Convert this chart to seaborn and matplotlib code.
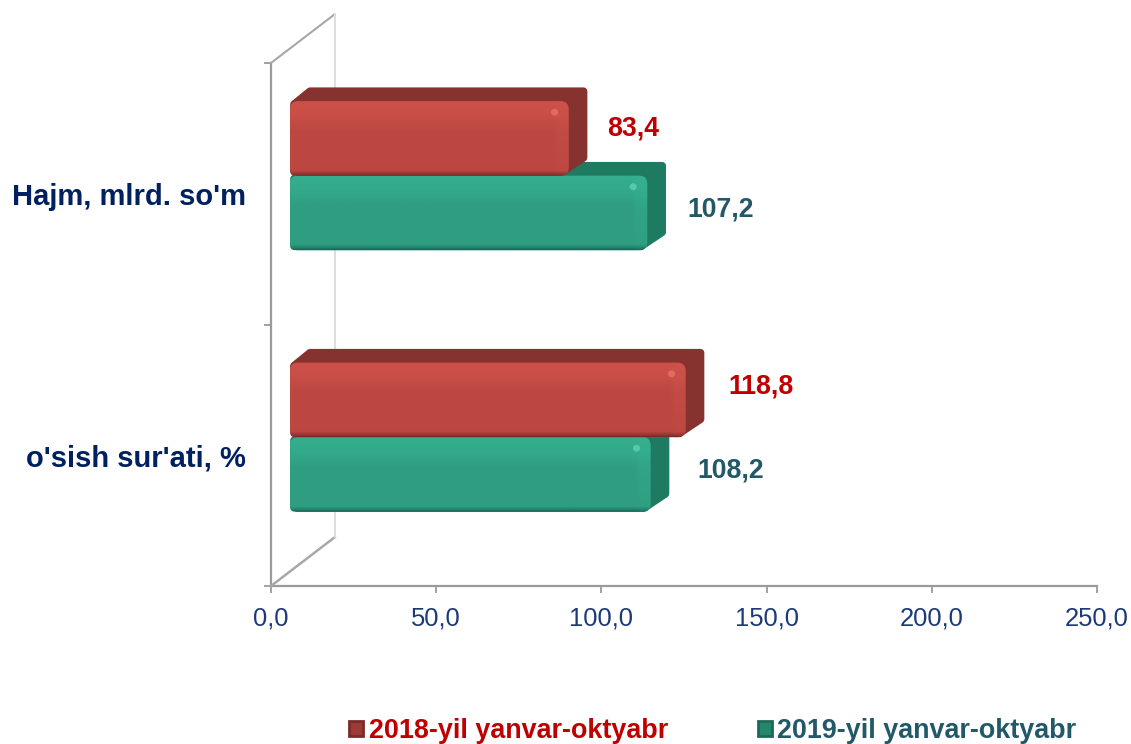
import numpy as np
import pandas as pd
import matplotlib
matplotlib.use('Agg')
import matplotlib.pyplot as plt
from matplotlib.patches import FancyBboxPatch, Polygon, Circle
from matplotlib.colors import to_rgb
import seaborn as sns

# data
categories = ["Hajm, mlrd. so'm", "o'sish sur'ati, %"]
series_names = ['2018-yil yanvar-oktyabr', '2019-yil yanvar-oktyabr']
values_2018 = [83.4, 118.8]
values_2019 = [107.2, 108.2]
x_ticks = [0, 50, 100, 150, 200, 250]

# styles
RED = dict(face='#bc4741', top='#d0534c', low='#7a2b28', dark='#86322e', text='#c00000',
           mark='#9c3a36', glint='#e8706a')
TEAL = dict(face='#2f9e80', top='#36b291', low='#1b6a57', dark='#1f7a62', text='#215968',
            mark='#26866c', glint='#5ccfb0')
styles = {series_names[0]: RED, series_names[1]: TEAL}
NAVY = '#002060'
TICK_BLUE = '#1c3a78'
AXIS_GRAY = '#9a9a9a'
W, H = 1131, 744

sns.set_theme(style='white')
plt.rcParams['font.family'] = ['Liberation Sans', 'DejaVu Sans']

df = pd.DataFrame({
    'cat': categories * 2,
    'series': [series_names[0]] * 2 + [series_names[1]] * 2,
    'val': values_2018 + values_2019,
})

fig = plt.figure(figsize=(W / 100, H / 100), dpi=100, facecolor='white')
ax = fig.add_axes([271 / W, (H - 586) / H, 826 / W, 523 / H])
sns.barplot(data=df, y='cat', x='val', hue='series', order=categories,
            hue_order=series_names, width=0.57, gap=0, dodge=True,
            palette=[RED['face'], TEAL['face']], errorbar=None, ax=ax, legend=True)

ax.set_xlim(0, 250)
ax.set_ylim(1.5, -0.5)
ax.set_xlabel('')
ax.set_ylabel('')
ax.set_xticks(x_ticks)
ax.set_xticklabels([f'{t:.1f}'.replace('.', ',') for t in x_ticks],
                   fontsize=18.4, color=TICK_BLUE)
ax.set_yticks([0, 1])
ax.set_yticklabels(categories, fontsize=21, fontweight='bold', color=NAVY)
ax.set_yticks([-0.5, 0.5, 1.5], minor=True)
ax.tick_params(axis='y', which='major', length=0, pad=18, left=False)
ax.tick_params(axis='y', which='minor', length=5, width=1.3, color=AXIS_GRAY, left=True)
ax.tick_params(axis='x', which='major', length=5, width=1.3, color=AXIS_GRAY,
               pad=10, bottom=True)
sns.despine(ax=ax)
for side in ['left', 'bottom']:
    ax.spines[side].set_color(AXIS_GRAY)
    ax.spines[side].set_linewidth(1.6)

# overlay in pixel coordinates for the fake 3D look
deco = fig.add_axes([0, 0, 1, 1], facecolor='none')
deco.set_xlim(0, W)
deco.set_ylim(H, 0)
deco.axis('off')

# side walls of the 3D box
x0, x1, y0, y1 = 271, 335, 63, 14
deco.plot([x0, x1], [y0, y1], color='#a8a8a8', lw=1.5, zorder=1)
deco.plot([x0, x1], [586, 537], color='#a8a8a8', lw=1.8, zorder=1)
deco.plot([x1, x1], [y1, 537], color='#dedede', lw=1.5, zorder=1)

SHIFT_X, SHIFT_Y = 19, -18
DEPTH_X, DEPTH_Y = 19, 14
EXTRA = 3
BEVEL = 17


def shade(style, w, h):
    base, top, low = [np.array(to_rgb(style[k])) for k in ('face', 'top', 'low')]
    t = np.linspace(0, 1, h)[:, None]
    a = np.interp(t, [0, 0.18, 0.4, 1], [0.8, 0.65, 0, 0])
    b = np.interp(t, [0, 0.93, 0.97, 1], [0, 0, 0.5, 1])
    img = np.ones((h, w, 3)) * base
    img = img * (1 - a[..., None]) + top * a[..., None]
    img = img * (1 - b[..., None]) + low * b[..., None]
    # lighter bevel strip at the right end
    xs = np.arange(w)[None, :]
    c = np.clip((xs - (w - BEVEL)) / 6.0, 0, 1) * 0.45 * np.clip(1.1 - t, 0, 1)
    img = img * (1 - c[..., None]) + top * c[..., None]
    return np.clip(img, 0, 1)


bars = [p for p in ax.patches if p.get_width() > 0]
# each series comes in category order, the 2019 bars sit below the 2018 ones
order = [(s, v, i) for s, vals in zip(series_names, [values_2018, values_2019])
         for i, v in enumerate(vals)]
bar_info = []
for patch, (name, value, cat_i) in zip(bars, order):
    (l, b), (r, t) = ax.transData.transform([
        (patch.get_x(), patch.get_y()),
        (patch.get_x() + patch.get_width(), patch.get_y() + patch.get_height())])
    px_l, px_r = l + SHIFT_X, r + SHIFT_X + EXTRA
    px_t, px_b = sorted([H - t + SHIFT_Y, H - b + SHIFT_Y])
    bar_info.append((cat_i, name, value, px_l, px_r, px_t, px_b))
    patch.set_visible(False)

# 2019 first, so the 2018 front face covers its top
z = 2
for cat_i, name, value, px_l, px_r, px_t, px_b in sorted(bar_info, key=lambda b: (b[0], b[1] == series_names[0])):
    st = styles[name]
    # top and side faces, inset and stroked wide for round corners
    deco.add_patch(Polygon([(px_l + 4, px_t + 3), (px_l + DEPTH_X + 1, px_t - DEPTH_Y + 4),
                            (px_r + DEPTH_X - 4, px_t - DEPTH_Y + 4),
                            (px_r + DEPTH_X - 4, px_b - DEPTH_Y - 4),
                            (px_r - 6, px_b - 4), (px_l + 4, px_b - 4)],
                           closed=True, fc=st['dark'], ec=st['dark'], lw=5.5, joinstyle='round', zorder=z))
    box = FancyBboxPatch((px_l, px_t), px_r - px_l, px_b - px_t,
                         boxstyle='round,pad=0,rounding_size=8', fc=st['face'], ec='none', zorder=z + 1)
    deco.add_patch(box)
    w_i, h_i = int(px_r - px_l), int(px_b - px_t)
    im = deco.imshow(shade(st, w_i, h_i), extent=(px_l, px_r, px_b, px_t), aspect='auto',
                     zorder=z + 2, interpolation='bilinear')
    im.set_clip_path(box)
    deco.add_patch(Circle((px_r - 14, px_t + 11), 3.5, fc=st['glint'], ec='none', alpha=0.85, zorder=z + 3))
    z += 5
deco.set_xlim(0, W)
deco.set_ylim(H, 0)

# value labels, nudged the way they sit in the chart
label_gap = {(0, series_names[0]): (20, -10), (0, series_names[1]): (21, -4),
             (1, series_names[0]): (24, -13), (1, series_names[1]): (28, -4)}
for cat_i, name, value, px_l, px_r, px_t, px_b in bar_info:
    gx, gy = label_gap[(cat_i, name)]
    deco.text(px_r + DEPTH_X + gx, (px_t + px_b) / 2 + gy, f'{value:.1f}'.replace('.', ','),
              color=styles[name]['text'], fontsize=19.2, fontweight='bold',
              ha='left', va='center', zorder=50)

# legend
handles, labels = ax.get_legend_handles_labels()
for h_, name in zip(handles, labels):
    h_.set_edgecolor(styles[name]['low'])
    h_.set_linewidth(2)
    h_.set_facecolor(styles[name]['mark'])
leg = fig.legend(handles, labels, loc='center', bbox_to_anchor=(713 / W, (H - 731) / H), ncol=2,
                 frameon=False, handlelength=0.52, handleheight=0.52, handletextpad=0.22,
                 columnspacing=3.3, borderpad=0,
                 prop=dict(size=19.4, weight='bold'),
                 labelcolor=[styles[n]['text'] for n in labels])
ax.get_legend().remove()

fig.savefig('out.png', dpi=100)
